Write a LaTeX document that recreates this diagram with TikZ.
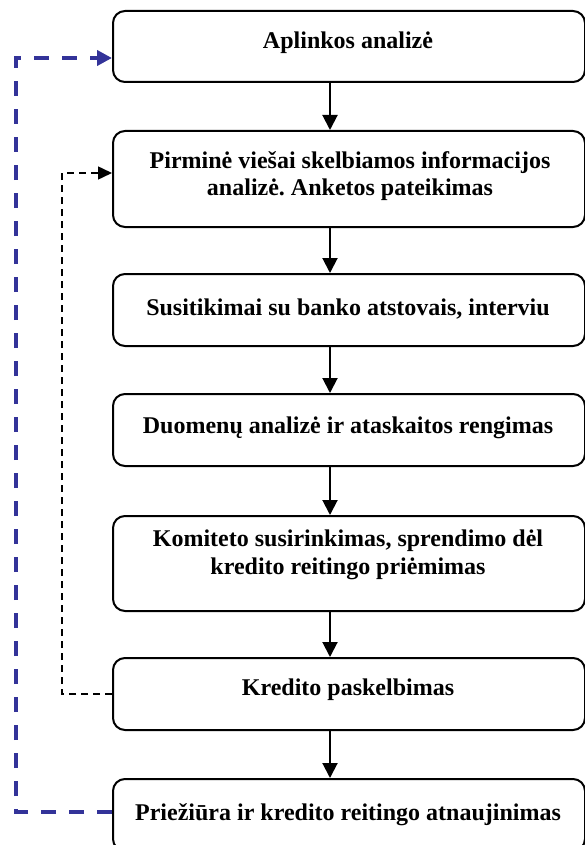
\documentclass[tikz,border=0pt]{standalone}
\usepackage{fontspec}
\setmainfont{Liberation Serif}
\usetikzlibrary{arrows.meta,calc}
\definecolor{dblue}{HTML}{333399}
\begin{document}
\frenchspacing
\begin{tikzpicture}[x=1pt,y=-1pt,
  box/.style={draw=black,line width=2pt,rounded corners=12pt,rectangle,anchor=north west,minimum width=472pt,inner sep=0pt},
  lbl/.style={font=\fontsize{24}{28}\selectfont\bfseries,align=center,anchor=base,inner sep=0pt},
  flow/.style={line width=2pt,-{Triangle[length=15pt,width=15pt]}},
  fbblue/.style={draw=dblue,line width=4pt,dash pattern=on 15pt off 13pt,-{Triangle[length=15pt,width=15pt]}},
  fbblack/.style={draw=black,line width=1.5pt,dash pattern=on 7pt off 5pt,-{Triangle[length=14pt,width=13pt]}}]
\useasboundingbox (0,0) rectangle (585,845);
\node[box,minimum height=71pt] (b1) at (112,10) {};
\node[box,minimum height=96pt] (b2) at (112,130) {};
\node[box,minimum height=72pt] (b3) at (112,273) {};
\node[box,minimum height=72pt] (b4) at (112,393) {};
\node[box,minimum height=95pt] (b5) at (112,515) {};
\node[box,minimum height=72pt] (b6) at (112,657) {};
\node[box,minimum height=72pt] (b7) at (112,778) {};
\node[lbl] (t1) at (348,49) {Aplinkos analizė};
\node[lbl] (t2) at (350,196) {Pirminė viešai skelbiamos informacijos\\analizė. Anketos pateikimas};
\node[lbl] (t3) at (348,315) {Susitikimai su banko atstovais, interviu};
\node[lbl] (t4) at (348,433) {Duomenų analizė ir ataskaitos rengimas};
\node[lbl] (t5) at (348,574) {Komiteto susirinkimas, sprendimo dėl\\kredito reitingo priėmimas};
\node[lbl] (t6) at (348,695) {Kredito paskelbimas};
\node[lbl] (t7) at (348,820) {Priežiūra ir kredito reitingo atnaujinimas};
\coordinate (ax) at (330,0);
\foreach \a/\b in {b1/b2,b2/b3,b3/b4,b4/b5,b5/b6,b6/b7}{
  \draw[flow] (\a.south -| ax) -- (\b.north -| ax);
}
\coordinate (bluex) at (16,0);
\coordinate (blackx) at (62,0);
\coordinate (b1in) at ($(b1.north west)+(0,48)$);
\coordinate (b2in) at ($(b2.north west)+(0,43)$);
\coordinate (b7out) at ($(b7.north west)+(0,34)$);
\draw[fbblue] (b7out) -- (b7out -| bluex) -- (bluex |- b1in) -- (b1in);
\draw[fbblack] (b6.west) -- (b6.west -| blackx) -- (blackx |- b2in) -- (b2in);
\end{tikzpicture}
\end{document}
